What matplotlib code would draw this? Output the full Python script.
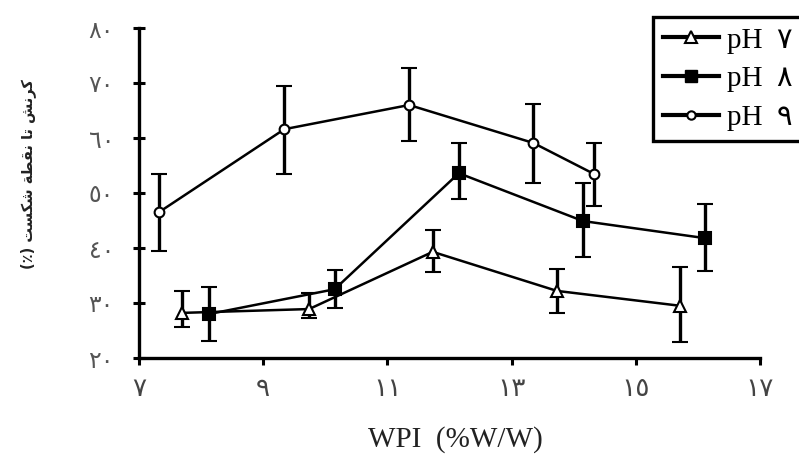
import matplotlib
matplotlib.use("Agg")
import matplotlib.pyplot as plt
from matplotlib.lines import Line2D

# ---------------- data ----------------
x_ph7 = [7.69, 9.74, 11.73, 13.73, 15.71]
y_ph7 = [28.2, 28.9, 39.3, 32.2, 29.5]
lo_ph7 = [2.6, 1.7, 3.7, 4.0, 6.6]
hi_ph7 = [4.0, 2.9, 4.0, 4.0, 7.1]

x_ph8 = [8.13, 10.15, 12.15, 14.15, 16.11]
y_ph8 = [28.0, 32.5, 53.6, 44.9, 41.8]
lo_ph8 = [4.9, 3.4, 4.7, 6.5, 6.0]
hi_ph8 = [4.9, 3.5, 5.5, 6.9, 6.2]

x_ph9 = [7.32, 9.34, 11.35, 13.35, 14.32]
y_ph9 = [46.5, 61.6, 66.0, 59.1, 53.5]
lo_ph9 = [7.0, 8.1, 6.5, 7.3, 5.9]
hi_ph9 = [7.0, 7.9, 6.7, 7.1, 5.6]

series_labels = ["pH  ٧", "pH  ٨", "pH  ٩"]
x_ticks = [7, 9, 11, 13, 15, 17]
x_tick_labels = ["٧", "٩", "١١", "١٣", "١٥", "١٧"]
y_ticks = [20, 30, 40, 50, 60, 70, 80]
y_tick_labels = ["٢٠", "٣٠", "٤٠", "٥٠", "٦٠", "٧٠", "٨٠"]
x_label = "WPI  (%W/W)"
y_label = "کرنش تا نقطة شکست (٪)"

# ---------------- minimal Arabic shaping (matplotlib has no shaper) ----------------
FORMS = {
    'ک': ('\uFB8E', '\uFB8F', '\uFB90', '\uFB91'),
    'ر': ('\uFEAD', '\uFEAE', None, None),
    'ن': ('\uFEE5', '\uFEE6', '\uFEE7', '\uFEE8'),
    'ش': ('\uFEB5', '\uFEB6', '\uFEB7', '\uFEB8'),
    'ت': ('\uFE95', '\uFE96', '\uFE97', '\uFE98'),
    'ا': ('\uFE8D', '\uFE8E', None, None),
    'ق': ('\uFED5', '\uFED6', '\uFED7', '\uFED8'),
    'ط': ('\uFEC1', '\uFEC2', '\uFEC3', '\uFEC4'),
    'ة': ('\uFE93', '\uFE94', None, None),
    'س': ('\uFEB1', '\uFEB2', '\uFEB3', '\uFEB4'),
}


def shape_rtl(text):
    out = []
    for i, ch in enumerate(text):
        if ch not in FORMS:
            out.append(ch)
            continue
        prev = text[i - 1] if i > 0 else ''
        nxt = text[i + 1] if i + 1 < len(text) else ''
        jp = prev in FORMS and FORMS[prev][2] is not None
        jn = nxt in FORMS and FORMS[ch][2] is not None
        iso, fin, ini, med = FORMS[ch]
        if jp and jn:
            out.append(med)
        elif jp:
            out.append(fin)
        elif jn:
            out.append(ini)
        else:
            out.append(iso)
    s = ''.join(out)[::-1]
    return s.translate(str.maketrans({'(': ')', ')': '('}))


# ---------------- figure ----------------
W, H = 799, 462
fig = plt.figure(figsize=(W / 100, H / 100), dpi=100)
ax = fig.add_axes([139 / W, 1 - 358 / H, (760 - 139) / W, (358 - 28) / H])
ax.set_xlim(7, 17)
ax.set_ylim(20, 80)

line_kw = dict(color='black', lw=1.8, ecolor='black', elinewidth=2.4,
               capsize=6, capthick=2.4, mec='black', mew=1.5)
ax.errorbar(x_ph7, y_ph7, yerr=[lo_ph7, hi_ph7], marker='^', ms=8, mfc='white', **line_kw)
ax.errorbar(x_ph8, y_ph8, yerr=[lo_ph8, hi_ph8], marker='s', ms=8, mfc='black', **line_kw)
ax.errorbar(x_ph9, y_ph9, yerr=[lo_ph9, hi_ph9], marker='o', ms=7, mfc='white', **line_kw)

for s in ['top', 'right']:
    ax.spines[s].set_visible(False)
for s in ['left', 'bottom']:
    ax.spines[s].set_linewidth(2.4)

ax.set_xticks(x_ticks)
ax.set_xticklabels(x_tick_labels, fontfamily='DejaVu Sans', fontsize=19, color='#444444')
ax.set_yticks(y_ticks)
ax.set_yticklabels(y_tick_labels, fontfamily='DejaVu Sans', fontsize=17, color='#555555')
ax.tick_params(axis='x', direction='out', length=5, width=2.2, pad=8)
ax.tick_params(axis='y', direction='inout', length=8, width=2.2, pad=14)

fig.text(455 / W, 1 - 440 / H, x_label, ha='center', va='center',
         fontfamily='Liberation Serif', fontsize=21, color='#222222')
fig.text(28 / W, 1 - 174 / H, shape_rtl(y_label), rotation=90, ha='center', va='center',
         fontfamily='DejaVu Sans', fontsize=10.5, fontweight='bold', color='#222222')

handles = [
    Line2D([], [], color='black', lw=3, marker='^', ms=8, mfc='white', mec='black', mew=1.5),
    Line2D([], [], color='black', lw=3, marker='s', ms=9, mfc='black', mec='black'),
    Line2D([], [], color='black', lw=3, marker='o', ms=6, mfc='white', mec='black', mew=1.5),
]
leg = fig.legend(handles, series_labels, loc='upper left',
                 bbox_to_anchor=(653 / W, 1 - 17 / H), borderaxespad=0,
                 prop={'family': ['Liberation Serif', 'DejaVu Sans'], 'size': 21},
                 handlelength=1.9, handletextpad=0.3, labelspacing=0.42,
                 borderpad=0.35, fancybox=False, framealpha=1)
leg.get_frame().set_edgecolor('black')
leg.get_frame().set_linewidth(2.4)

fig.savefig("out.png", dpi=100)
